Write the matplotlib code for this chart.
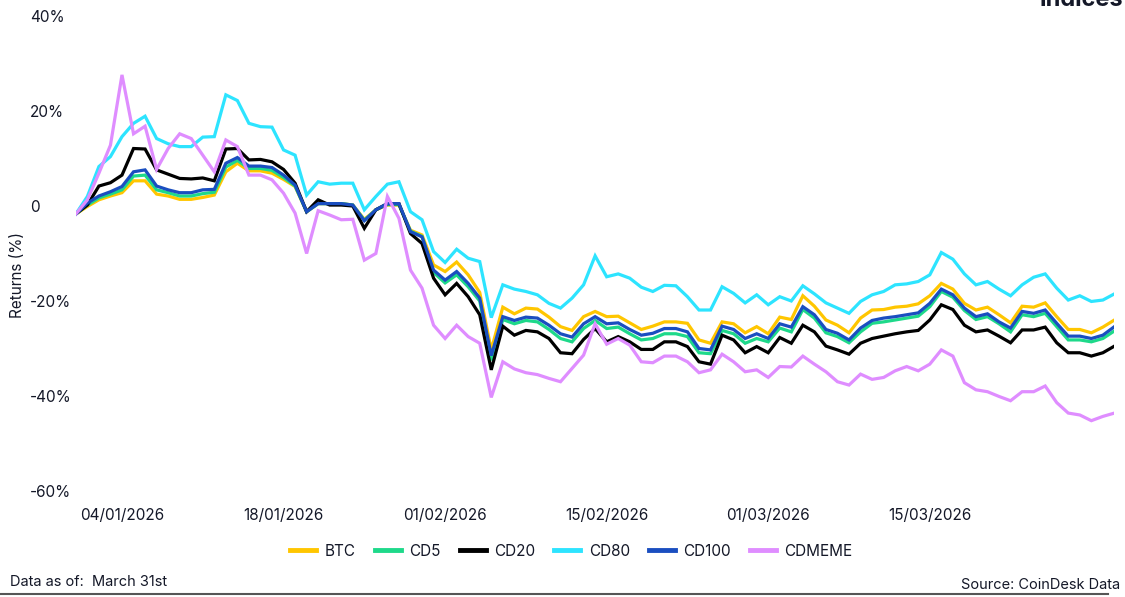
import numpy as np
import pandas as pd
import matplotlib
matplotlib.use("Agg")
import matplotlib.pyplot as plt
import matplotlib.dates as mdates
from matplotlib.lines import Line2D

dates = pd.date_range("2025-12-31", "2026-03-31", freq="D")

btc = [-1.7, -0.1, 1.3, 2.1, 2.8, 5.3, 5.3, 2.5, 2.1, 1.4, 1.4, 1.8, 2.3, 7.2, 9.0, 7.4, 7.4, 6.9, 5.6, 4.1,
       -1.2, 0.5, 0.5, 0.5, 0.2, -2.8, -0.8, 0.2, 0.2, -5.1, -6.1, -12.4, -13.8, -11.8, -14.5, -18.2, -30.3,
       -21.3, -22.7, -21.5, -21.7, -23.4, -25.4, -26.2, -23.3, -22.2, -23.3, -23.2, -24.6, -26.0, -25.3, -24.4,
       -24.4, -24.7, -28.2, -28.9, -24.4, -24.8, -26.7, -25.4, -26.9, -23.4, -23.9, -18.9, -21.1, -24.0, -25.1,
       -26.7, -23.6, -21.9, -21.8, -21.3, -21.1, -20.6, -18.9, -16.3, -17.5, -20.5, -21.9, -21.3, -22.9, -24.6,
       -21.1, -21.3, -20.4, -23.3, -26.0, -26.0, -26.7, -25.5, -24.0]
cd5 = [-1.7, 0.2, 1.7, 2.5, 3.4, 6.3, 6.5, 3.4, 2.8, 2.1, 2.1, 2.6, 2.9, 8.2, 9.6, 7.9, 7.9, 7.5, 6.0, 4.2,
       -1.2, 0.5, 0.5, 0.5, 0.2, -3.0, -0.8, 0.3, 0.3, -5.3, -6.4, -14.0, -16.2, -14.5, -17.0, -20.0, -32.5,
       -23.9, -24.8, -24.1, -24.4, -26.0, -27.9, -28.6, -25.8, -24.1, -25.8, -25.5, -26.9, -28.2, -27.9, -26.9,
       -26.9, -27.5, -30.9, -31.1, -26.2, -26.9, -28.9, -27.9, -28.6, -25.7, -26.5, -21.8, -23.6, -26.7, -27.5,
       -28.8, -26.5, -24.7, -24.4, -24.0, -23.6, -23.2, -21.2, -18.0, -19.2, -22.0, -23.9, -23.3, -24.8, -26.5,
       -22.9, -23.3, -22.6, -25.4, -28.2, -28.2, -28.6, -27.9, -26.3]
cd20 = [-1.7, 0.2, 4.2, 4.9, 6.5, 12.1, 12.0, 7.6, 6.7, 5.8, 5.7, 5.9, 5.3, 12.0, 12.1, 9.7, 9.8, 9.3, 7.7, 4.8,
        -1.2, 1.3, 0.2, 0.2, 0.0, -4.7, -0.8, 0.5, 0.5, -5.8, -7.9, -15.2, -18.7, -16.3, -19.1, -22.9, -34.5,
        -25.3, -27.2, -26.2, -26.5, -27.9, -30.9, -31.1, -28.1, -25.8, -28.6, -27.5, -28.6, -30.2, -30.2, -28.6,
        -28.6, -29.6, -32.8, -33.3, -27.2, -28.2, -30.9, -29.6, -30.9, -27.7, -28.9, -25.1, -26.5, -29.5, -30.3,
        -31.2, -28.9, -27.9, -27.4, -26.9, -26.5, -26.2, -24.0, -20.8, -21.8, -25.1, -26.5, -26.1, -27.4, -28.8,
        -26.1, -26.1, -25.5, -28.8, -30.9, -30.9, -31.6, -30.9, -29.5]
cd80 = [-1.7, 2.0, 8.3, 10.4, 14.6, 17.4, 18.9, 14.2, 13.1, 12.5, 12.5, 14.5, 14.6, 23.4, 22.2, 17.4, 16.7, 16.6,
        11.8, 10.7, 2.3, 5.1, 4.6, 4.8, 4.8, -0.8, 2.0, 4.6, 5.1, -1.2, -2.9, -9.6, -11.9, -9.1, -11.0, -11.7,
        -23.5, -16.6, -17.5, -18.0, -18.7, -20.5, -21.5, -19.4, -16.6, -10.5, -14.9, -14.3, -15.2, -17.1, -18.0,
        -16.7, -16.8, -19.1, -21.9, -21.9, -17.0, -18.4, -20.4, -18.7, -20.8, -19.1, -20.0, -16.8, -18.5, -20.4,
        -21.5, -22.6, -20.1, -18.7, -18.0, -16.6, -16.4, -15.9, -14.5, -9.8, -11.2, -14.3, -16.6, -15.9, -17.5,
        -18.9, -16.6, -15.0, -14.3, -17.3, -19.8, -18.9, -20.1, -19.8, -18.5]
cd100 = [-1.7, 0.6, 2.1, 3.0, 4.1, 7.2, 7.6, 4.2, 3.4, 2.8, 2.8, 3.4, 3.5, 9.0, 10.2, 8.4, 8.4, 8.1, 6.5, 4.4,
         -1.2, 0.5, 0.5, 0.5, 0.2, -3.1, -0.8, 0.5, 0.5, -5.4, -6.5, -13.5, -15.6, -13.8, -16.3, -19.4, -31.5,
         -23.3, -24.1, -23.4, -23.6, -25.1, -26.9, -27.6, -24.8, -23.3, -24.8, -24.6, -26.0, -27.2, -26.8, -25.8,
         -25.8, -26.5, -30.0, -30.3, -25.3, -26.0, -27.9, -26.9, -27.9, -24.8, -25.5, -21.2, -22.9, -26.0, -26.8,
         -28.2, -25.7, -24.1, -23.6, -23.3, -22.9, -22.5, -20.5, -17.5, -18.7, -21.5, -23.3, -22.7, -24.4, -25.7,
         -22.2, -22.6, -21.9, -24.7, -27.4, -27.4, -27.9, -27.2, -25.4]
cdmeme = [-1.7, 1.3, 6.9, 12.8, 27.6, 15.2, 16.8, 7.7, 12.1, 15.2, 14.2, 10.7, 7.2, 13.9, 12.5, 6.5, 6.5, 5.5,
          2.7, -1.5, -10.0, -1.0, -1.9, -2.9, -2.8, -11.4, -10.0, 2.0, -2.6, -13.5, -17.3, -25.1, -27.9, -25.1,
          -27.5, -28.9, -40.3, -32.8, -34.3, -35.1, -35.5, -36.3, -37.0, -34.2, -31.4, -24.8, -29.1, -27.9, -29.3,
          -32.8, -33.0, -31.6, -31.6, -32.8, -35.1, -34.5, -31.2, -32.8, -34.9, -34.5, -36.1, -33.8, -33.9, -31.6,
          -33.3, -34.9, -37.0, -37.7, -35.4, -36.5, -36.1, -34.7, -33.8, -34.7, -33.3, -30.3, -31.6, -37.2, -38.7,
          -39.1, -40.1, -41.0, -39.1, -39.1, -37.9, -41.4, -43.6, -44.0, -45.2, -44.3, -43.6]

names = ["BTC", "CD5", "CD20", "CD80", "CD100", "CDMEME"]
series = [btc, cd5, cd20, cd80, cd100, cdmeme]
colors = ["#FFC600", "#1ED98A", "#000000", "#2DE4FF", "#1A4EC0", "#DF8DFF"]

text_col = "#141828"
plt.rcParams["font.family"] = ["Inter", "DejaVu Sans"]

fig = plt.figure(figsize=(11.25, 5.97), dpi=100)
ax = fig.add_axes([0.0674, 0.1776, 0.9232, 0.7956])

for name, vals, c in zip(names, series, colors):
    ax.plot(dates, vals, color=c, lw=2.3, label=name, solid_joinstyle="miter")

ax.set_xlim(dates[0], dates[-1])
ax.set_ylim(-60, 40)
ax.set_yticks([40, 20, 0, -20, -40, -60])
ax.set_yticklabels(["40%", "20%", "0", "-20%", "-40%", "-60%"])
for lbl in ax.get_yticklabels():
    lbl.set_horizontalalignment("left")
ax.tick_params(axis="y", length=0, pad=33, labelsize=11, labelcolor=text_col)

ticks = pd.date_range("2026-01-04", periods=6, freq="14D")
ax.set_xticks(ticks)
ax.xaxis.set_major_formatter(mdates.DateFormatter("%d/%m/%Y"))
ax.tick_params(axis="x", length=0, pad=12, labelsize=11, labelcolor=text_col)

for s in ax.spines.values():
    s.set_visible(False)

fig.text(18 / 1125, 1 - 275 / 597, "Returns (%)", rotation=90, ha="center", va="center",
         fontsize=11, color=text_col)

handles = [Line2D([0], [0], color=c, lw=3.5) for c in colors]
fig.legend(handles, names, loc="center", bbox_to_anchor=(0.508, 1 - 551 / 597), ncol=6,
           frameon=False, fontsize=11, handlelength=1.7, handletextpad=0.55, columnspacing=1.25,
           labelcolor=text_col)

fig.text(10 / 1125, 1 - 582 / 597, "Data as of:  March 31st", ha="left", va="center",
         fontsize=10.5, color=text_col)
fig.text(1120 / 1125, 1 - 585 / 597, "Source: CoinDesk Data", ha="right", va="center",
         fontsize=10.5, color=text_col)
fig.text(1123 / 1125, 1.0, "Indices", ha="right", va="center", fontsize=17,
         fontweight="bold", color=text_col)
fig.add_artist(Line2D([0.0, 0.985], [1 - 594 / 597] * 2, color="#555555", lw=1.5,
                      transform=fig.transFigure))

fig.savefig("out.png", dpi=100)
